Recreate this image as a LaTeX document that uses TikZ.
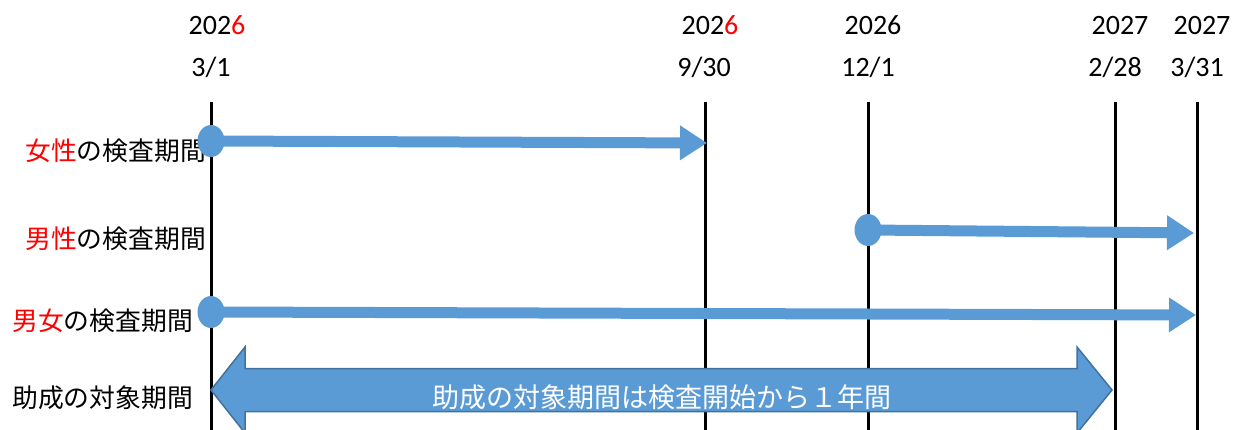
\documentclass[tikz,border=0pt]{standalone}
\usepackage{fontspec}
\setmainfont{Carlito}
\newfontfamily\jpfont{Noto Sans CJK JP}
\usetikzlibrary{arrows.meta,shapes.geometric}
\definecolor{barblue}{HTML}{5B9BD5}
\definecolor{edgeblue}{HTML}{41719C}
\definecolor{hlred}{HTML}{FF0000}
\tikzset{
  vline/.style={line width=3pt,black},
  yearlbl/.style={anchor=base,inner sep=0pt,font=\fontsize{28}{32}\selectfont},
  datelbl/.style={anchor=base,inner sep=0pt,font=\fontsize{28}{32}\selectfont},
  rowlbl/.style={anchor=base west,inner sep=0pt,font=\jpfont\fontsize{25.8}{30}\selectfont},
  dotmark/.style={ellipse,fill=barblue,draw=none,inner sep=0pt,minimum width=27pt,minimum height=32pt},
  bar/.style={line width=11pt,barblue,-{Triangle[length=27pt,width=33pt]}},
  bigarrow/.style={fill=barblue,draw=edgeblue,line width=1.5pt,line join=miter},
  bigtext/.style={anchor=base,inner sep=0pt,text=white,font=\jpfont\fontsize{27}{31}\selectfont}
}
\begin{document}
\begin{tikzpicture}[x=1pt,y=-1pt]
\useasboundingbox (0,0) rectangle (1233,430);
% vertical date lines
\coordinate (t1) at (211,102); \coordinate (b1) at (211,432);
\coordinate (t2) at (705,102); \coordinate (b2) at (705,432);
\coordinate (t3) at (868,102); \coordinate (b3) at (868,432);
\coordinate (t4) at (1115,102); \coordinate (b4) at (1115,432);
\coordinate (t5) at (1197,102); \coordinate (b5) at (1197,432);
\draw[vline] (t1) -- (b1);
\draw[vline] (t2) -- (b2);
\draw[vline] (t3) -- (b3);
\draw[vline] (t4) -- (b4);
\draw[vline] (t5) -- (b5);
% dates
\node[yearlbl] (y1) at (217,35) {202\textcolor{hlred}{6}};
\node[datelbl] (d1) at (211,77) {3/1};
\node[yearlbl] (y2) at (710,35) {202\textcolor{hlred}{6}};
\node[datelbl] (d2) at (704,77) {9/30};
\node[yearlbl] (y3) at (873,35) {2026};
\node[datelbl] (d3) at (868,77) {12/1};
\node[yearlbl] (y4) at (1120,35) {2027};
\node[datelbl] (d4) at (1115,77) {2/28};
\node[yearlbl] (y5) at (1202,35) {2027};
\node[datelbl] (d5) at (1197,77) {3/31};
% row labels
\node[rowlbl] (r1) at (25,161) {\textcolor{hlred}{女性}の検査期間};
\node[rowlbl] (r2) at (25,248) {\textcolor{hlred}{男性}の検査期間};
\node[rowlbl] (r3) at (12,330) {\textcolor{hlred}{男女}の検査期間};
\node[rowlbl] (r4) at (12,407) {助成の対象期間};
% period arrows
\node[dotmark] (s1) at (211,141) {};
\coordinate (e1) at (707,143);
\draw[bar] (s1.center) -- (e1);
\node[dotmark] (s2) at (868,230) {};
\coordinate (e2) at (1194,233);
\draw[bar] (s2.center) -- (e2);
\node[dotmark] (s3) at (211,312) {};
\coordinate (e3) at (1196,315);
\draw[bar] (s3.center) -- (e3);
% subsidy double arrow
\filldraw[bigarrow] (211,390) -- (245,347) -- (245,368.5) -- (1077,368.5) -- (1077,347) -- (1112,390) -- (1077,433) -- (1077,411.5) -- (245,411.5) -- (245,433) -- cycle;
\node[bigtext] (bt) at (662,407) {助成の対象期間は検査開始から１年間};
\end{tikzpicture}
\end{document}
